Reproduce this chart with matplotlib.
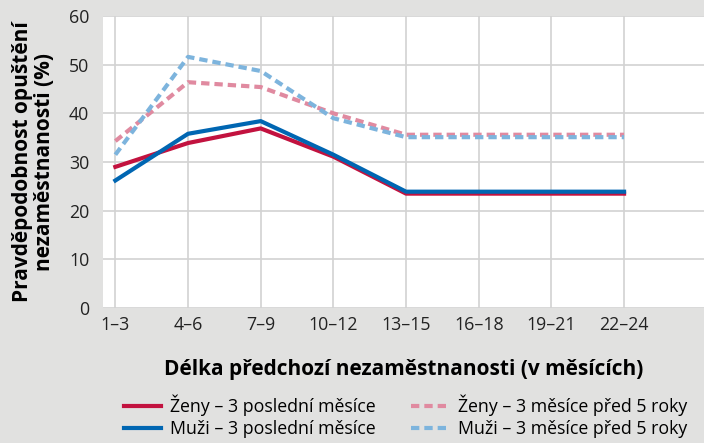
import numpy as np
import matplotlib.pyplot as plt

# data
categories = ["1–3", "4–6", "7–9", "10–12", "13–15", "16–18", "19–21", "22–24"]
zeny_posledni = [29.0, 33.9, 36.9, 31.1, 23.5, 23.5, 23.5, 23.5]
muzi_posledni = [26.2, 35.8, 38.4, 31.5, 23.9, 23.9, 23.9, 23.9]
zeny_pred5 = [34.3, 46.4, 45.4, 40.0, 35.6, 35.6, 35.6, 35.6]
muzi_pred5 = [31.5, 51.6, 48.7, 39.0, 35.1, 35.1, 35.1, 35.1]

plt.rcParams['font.family'] = ['Open Sans', 'DejaVu Sans']

BG = "#e1e1e0"
fig = plt.figure(figsize=(7.04, 4.43), dpi=100, facecolor=BG)
ax = fig.add_axes([103/704, 1 - 308/443, 601/704, 292/443])
ax.set_facecolor("white")

x = np.arange(len(categories))
ax.plot(x, zeny_pred5, color="#e08aa0", lw=3, ls=(0, (2, 1.2)), label="Ženy – 3 měsíce před 5 roky", zorder=3)
ax.plot(x, muzi_pred5, color="#7db4dd", lw=3, ls=(0, (2, 1.2)), label="Muži – 3 měsíce před 5 roky", zorder=3)
ax.plot(x, zeny_posledni, color="#c2123f", lw=3, label="Ženy – 3 poslední měsíce", zorder=4)
ax.plot(x, muzi_posledni, color="#0066b2", lw=3, label="Muži – 3 poslední měsíce", zorder=4)

ax.set_ylim(0, 60)
ax.set_yticks(range(0, 61, 10))
ax.set_xlim(-0.17, 8.1)
ax.set_xticks(x)
ax.set_xticklabels(categories)
ax.grid(True, color="#d2d2d2", lw=1.2)
ax.set_axisbelow(True)
for s in ax.spines.values():
    s.set_visible(False)
ax.tick_params(length=0, labelsize=12.8, colors="#222222", pad=6)
ax.tick_params(axis='y', pad=10)

ax.set_xlabel("Délka předchozí nezaměstnanosti (v měsících)", fontsize=15, fontweight="bold", labelpad=18)
ax.set_ylabel("Pravděpodobnost opuštění\nnezaměstnanosti (%)", fontsize=15, fontweight="bold",
              labelpad=10, linespacing=1.05)

h, l = ax.get_legend_handles_labels()
order = [2, 3, 0, 1]
fig.legend([h[i] for i in order], [l[i] for i in order], ncol=2, loc="lower center",
           bbox_to_anchor=(0.576, -0.025), frameon=False, fontsize=12.8,
           handlelength=2.1, columnspacing=2.0, labelspacing=0.22, handletextpad=0.5)

fig.savefig("out.png", dpi=100, facecolor=BG)
